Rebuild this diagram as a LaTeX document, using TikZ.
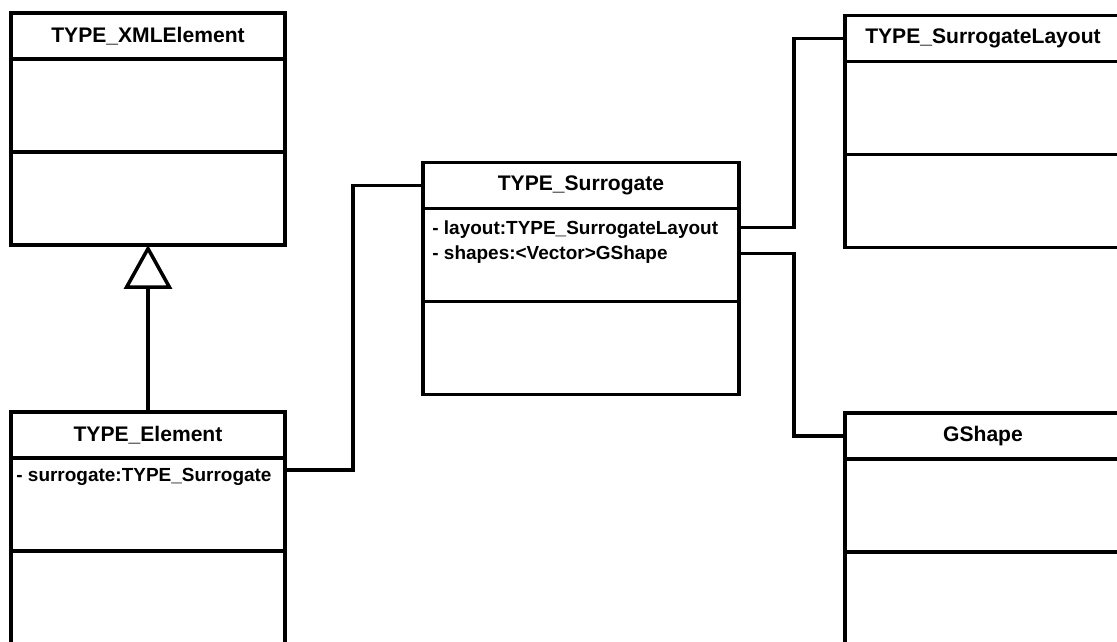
\documentclass[tikz,border=0pt]{standalone}
\usepackage{fontspec}
\setmainfont{Liberation Sans}
\usetikzlibrary{arrows.meta, calc, positioning}
\tikzset{
    hdr/.style={draw, line width=2pt, outer sep=0pt, inner sep=0pt, minimum height=0.92cm, font=\fontsize{12}{14}\selectfont\bfseries},
    cmp/.style={draw, line width=2pt, outer sep=0pt, inner sep=0pt, minimum height=1.86cm},
    atxt/.style={inner sep=0pt, align=left, font=\fontsize{10.8}{14.2}\selectfont\bfseries},
    lnk/.style={line width=2pt},
    gen/.style={line width=2pt, -{Triangle[open, length=0.88cm, width=0.96cm]}},
    uml/.style={x=0.02cm, y=-0.02cm}
}

\begin{document}
\begin{tikzpicture}[uml]
        \path[use as bounding box, clip] (0,0) rectangle (1117,642);

        \node[hdr, minimum width=5.48cm] (xml) at (148,36) {TYPE\_XMLElement};
        \node[cmp, minimum width=5.48cm, below=0pt of xml] (xmlA) {};
        \node[cmp, minimum width=5.48cm, below=0pt of xmlA] (xmlO) {};

        \node[hdr, minimum width=5.48cm] (elH) at (148,435) {TYPE\_Element};
        \node[cmp, minimum width=5.48cm, below=0pt of elH] (elA) {};
        \node[cmp, minimum width=5.48cm, below=0pt of elA] (elO) {};
        \node[atxt, anchor=north west] (elT) at ($(elA.north west)+(5,10)$) {- surrogate:TYPE\_Surrogate};

        \node[hdr, minimum width=6.32cm] (surH) at (581,185.5) {TYPE\_Surrogate};
        \node[cmp, minimum width=6.32cm, below=0pt of surH] (surA) {};
        \node[cmp, minimum width=6.32cm, below=0pt of surA] (surO) {};
        \node[atxt, anchor=north west] (surT) at ($(surA.north west)+(9,12)$) {- layout:TYPE\_SurrogateLayout\\- shapes:<Vector>GShape};

        \node[hdr, minimum width=5.52cm] (slH) at (983,38.5) {TYPE\_SurrogateLayout};
        \node[cmp, minimum width=5.52cm, below=0pt of slH] (slA) {};
        \node[cmp, minimum width=5.52cm, below=0pt of slA] (slO) {};

        \node[hdr, minimum width=5.52cm] (gsH) at (983,436) {GShape};
        \node[cmp, minimum width=5.52cm, below=0pt of gsH] (gsA) {};
        \node[cmp, minimum width=5.52cm, below=0pt of gsA] (gsO) {};

        \draw[gen] (elH.north) -- (xmlO.south);
        \draw[lnk] ($(elA.north east)+(0,12)$) -- ++(68,0) |- (surH.west);
        \draw[lnk] ($(surA.north east)+(0,19)$) -- ++(55,0) |- (slH.west);
        \draw[lnk] ($(surA.north east)+(0,45)$) -- ++(55,0) |- (gsH.west);
    \end{tikzpicture}
\end{document}
